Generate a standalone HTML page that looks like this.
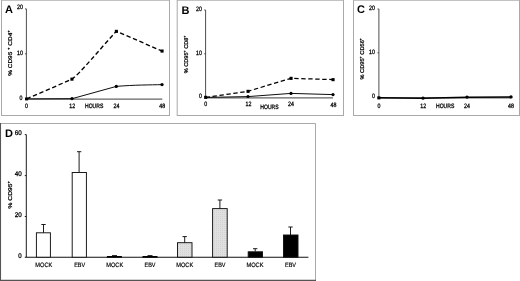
<!DOCTYPE html>
<html><head><meta charset="utf-8">
<style>
html,body{margin:0;padding:0;background:#fff;}
body{width:520px;height:281px;overflow:hidden;}
svg{display:block;position:absolute;left:0;top:0;will-change:transform;}
text{font-family:"Liberation Sans",sans-serif;fill:#000;text-rendering:geometricPrecision;}
.t{font-size:6.3px;stroke:#000;stroke-width:0.28px;}
.yl{font-size:5.5px;stroke:#000;stroke-width:0.25px;}
.e{text-anchor:end;}
.m{text-anchor:middle;}
.p{font-size:11px;font-weight:bold;}
.ax{stroke:#3a3a3a;stroke-width:0.9;fill:none;}
.xa{stroke:#646464;stroke-width:1.15;fill:none;}
</style></head><body>
<svg width="520" height="281" viewBox="0 0 520 281">
<defs>
<pattern id="dots" width="2" height="2" patternUnits="userSpaceOnUse">
<rect width="2" height="2" fill="#e0e0e0"/><rect width="1" height="1" fill="#d2d2d2"/>
</pattern>
</defs>
<rect width="520" height="281" fill="#fff"/>
<!-- panel frames -->
<g fill="none" stroke="#a9a9a9" stroke-width="1">
<rect x="1.5" y="0.2" width="168" height="115.3"/>
<rect x="177.2" y="0.2" width="166.3" height="115.3"/>
<rect x="353.5" y="0.2" width="166" height="115.3"/>
<path d="M0.5 123.5H315.5V280.5"/>
</g>
<path d="M0.5 123V280.4H316" fill="none" stroke="#555" stroke-width="1.1"/>

<!-- Panel A -->
<text class="p" x="5" y="13">A</text>
<path class="ax" d="M26.4 8.9V99.3M25 8.9h1.4M25 53.8h1.4"/>
<path class="xa" d="M26.4 99.1H162.3"/>
<text class="t e" x="23" y="9.2" textLength="5.9" lengthAdjust="spacingAndGlyphs">20</text>
<text class="t e" x="23" y="54.9" textLength="5.9" lengthAdjust="spacingAndGlyphs">10</text>
<text class="t e" x="22.4" y="99.6" textLength="2.95" lengthAdjust="spacingAndGlyphs">0</text>
<text class="t m" x="26.5" y="108.3" textLength="2.95" lengthAdjust="spacingAndGlyphs">0</text>
<text class="t m" x="72.2" y="108.3" textLength="5.9" lengthAdjust="spacingAndGlyphs">12</text>
<text class="t" x="85" y="108.3" textLength="18.3" lengthAdjust="spacingAndGlyphs">HOURS</text>
<text class="t m" x="116.4" y="108.3" textLength="5.9" lengthAdjust="spacingAndGlyphs">24</text>
<text class="t m" x="162.3" y="108.3" textLength="5.9" lengthAdjust="spacingAndGlyphs">48</text>
<text class="yl" transform="translate(11.5,75.8) rotate(-90)" textLength="45.5" lengthAdjust="spacingAndGlyphs">% CD95 <tspan dy="-2" font-size="3.6">+</tspan><tspan dy="2"> CD4</tspan><tspan dy="-2" font-size="3.6">+</tspan></text>
<path d="M26.5 98.9L72 79.2C80 73.5 100 49 116.3 31.3L162 51" stroke="#000" stroke-width="1.35" fill="none" stroke-dasharray="4.4 2.6"/>
<path d="M26.5 98.9L72 98.7L116.3 86.4C135 84.8 150 85 162 84.6" stroke="#000" stroke-width="0.95" fill="none"/>
<g fill="#000">
<rect x="70.4" y="77.6" width="3.1" height="3.1"/><rect x="114.8" y="29.8" width="3.1" height="3.1"/><rect x="160.5" y="49.5" width="3.1" height="3.1"/>
<rect x="25" y="97.5" width="3.1" height="2.9"/><circle cx="72" cy="98.6" r="1.65"/><circle cx="116.3" cy="86.4" r="1.65"/><circle cx="162" cy="84.6" r="1.65"/>
</g>

<!-- Panel B -->
<text class="p" x="181.5" y="13.6">B</text>
<path class="ax" d="M205.6 10V97.9M204.2 10h1.4M204.2 53.8h1.4"/>
<path class="xa" d="M205.6 97.9H333"/>
<text class="t e" x="202" y="11.3" textLength="5.9" lengthAdjust="spacingAndGlyphs">20</text>
<text class="t e" x="202" y="54.9" textLength="5.9" lengthAdjust="spacingAndGlyphs">10</text>
<text class="t e" x="202" y="98.3" textLength="2.95" lengthAdjust="spacingAndGlyphs">0</text>
<text class="t m" x="205.6" y="106.2" textLength="2.95" lengthAdjust="spacingAndGlyphs">0</text>
<text class="t m" x="248.5" y="106.4" textLength="5.9" lengthAdjust="spacingAndGlyphs">12</text>
<text class="t" x="260.3" y="108.8" textLength="18.3" lengthAdjust="spacingAndGlyphs">HOURS</text>
<text class="t m" x="291" y="106.4" textLength="5.9" lengthAdjust="spacingAndGlyphs">24</text>
<text class="t m" x="333.5" y="106.8" textLength="5.9" lengthAdjust="spacingAndGlyphs">48</text>
<text class="yl" transform="translate(188.4,73.3) rotate(-90)" textLength="37.8" lengthAdjust="spacingAndGlyphs">% CD95<tspan dy="-2" font-size="3.6">+</tspan><tspan dy="2"> CD8</tspan><tspan dy="-2" font-size="3.6">+</tspan></text>
<path d="M205.6 97.4L248 91.3L291 78.3L333 79.6" stroke="#000" stroke-width="1.25" fill="none" stroke-dasharray="4.4 2.6"/>
<path d="M205.6 97.4L248 96.6L291 93.4L333 94.6" stroke="#000" stroke-width="0.95" fill="none"/>
<g fill="#000">
<rect x="246.5" y="89.8" width="3.1" height="3.1"/><rect x="289.5" y="76.8" width="3.1" height="3.1"/><rect x="331.5" y="78.1" width="3.1" height="3.1"/>
<rect x="204.1" y="95.8" width="3.1" height="3.1"/>
<circle cx="248" cy="96.5" r="1.6"/><circle cx="291" cy="93.4" r="1.6"/><circle cx="333" cy="94.6" r="1.6"/>
</g>

<!-- Panel C -->
<text class="p" x="357" y="13">C</text>
<path class="ax" d="M378.9 9V97.9M377.5 9h1.4M377.5 52.8h1.4"/>
<path class="xa" d="M378.9 97.9H511"/>
<text class="t e" x="375" y="9.8" textLength="5.9" lengthAdjust="spacingAndGlyphs">20</text>
<text class="t e" x="375" y="53.8" textLength="5.9" lengthAdjust="spacingAndGlyphs">10</text>
<text class="t e" x="375" y="98.2" textLength="2.95" lengthAdjust="spacingAndGlyphs">0</text>
<text class="t m" x="379" y="108.3" textLength="2.95" lengthAdjust="spacingAndGlyphs">0</text>
<text class="t m" x="423.2" y="108.3" textLength="5.9" lengthAdjust="spacingAndGlyphs">12</text>
<text class="t" x="436" y="108.3" textLength="18.3" lengthAdjust="spacingAndGlyphs">HOURS</text>
<text class="t m" x="467" y="108.3" textLength="5.9" lengthAdjust="spacingAndGlyphs">24</text>
<text class="t m" x="511" y="108.3" textLength="5.9" lengthAdjust="spacingAndGlyphs">48</text>
<text class="yl" transform="translate(364.4,79.5) rotate(-90)" textLength="41.5" lengthAdjust="spacingAndGlyphs">% CD95<tspan dy="-2" font-size="3.6">+</tspan><tspan dy="2"> CD56</tspan><tspan dy="-2" font-size="3.6">+</tspan></text>
<path d="M378.9 97.8L423 98.2L467 97.2L511 97" stroke="#000" stroke-width="1.5" fill="none"/>
<g fill="#000">
<rect x="377.3" y="96.3" width="3.1" height="3.1"/>
<circle cx="423" cy="98.2" r="1.6"/><circle cx="467" cy="97.1" r="1.7"/><circle cx="511" cy="96.9" r="1.7"/>
</g>

<!-- Panel D -->
<text class="p" x="5" y="137.3">D</text>
<path class="ax" d="M26.3 134.6V257.2M24.8 134.6h1.5M24.8 175.6h1.5M24.8 216.5h1.5" style="stroke:#1a1a1a;stroke-width:1"/>
<path class="ax" d="M24.8 257.2H308.4" style="stroke-width:1.1;stroke:#111"/>
<text class="t e" x="21.8" y="135" textLength="7" lengthAdjust="spacingAndGlyphs" style="font-size:6.7px">60</text>
<text class="t e" x="21.8" y="176.3" textLength="7" lengthAdjust="spacingAndGlyphs" style="font-size:6.7px">40</text>
<text class="t e" x="21.8" y="217" textLength="7" lengthAdjust="spacingAndGlyphs" style="font-size:6.7px">20</text>
<text class="t e" x="21.6" y="258.3" textLength="3.4" lengthAdjust="spacingAndGlyphs" style="font-size:6.7px">0</text>
<text class="yl" transform="translate(12.2,208.5) rotate(-90)" textLength="27.5" lengthAdjust="spacingAndGlyphs">% CD95<tspan dy="-2" font-size="3.6">+</tspan></text>
<g class="t" text-anchor="middle" style="font-size:6.3px;stroke-width:0.18px">
<text x="43.8" y="267" textLength="17" lengthAdjust="spacingAndGlyphs">MOCK</text>
<text x="79.7" y="267" textLength="11" lengthAdjust="spacingAndGlyphs">EBV</text>
<text x="114.7" y="267" textLength="17" lengthAdjust="spacingAndGlyphs">MOCK</text>
<text x="150" y="267" textLength="11" lengthAdjust="spacingAndGlyphs">EBV</text>
<text x="184.7" y="267" textLength="17" lengthAdjust="spacingAndGlyphs">MOCK</text>
<text x="220" y="267" textLength="11" lengthAdjust="spacingAndGlyphs">EBV</text>
<text x="255" y="267" textLength="17" lengthAdjust="spacingAndGlyphs">MOCK</text>
<text x="290.5" y="267" textLength="11" lengthAdjust="spacingAndGlyphs">EBV</text>
</g>
<g stroke="#111" stroke-width="0.95">
<!-- error bars -->
<path d="M43.5 233V224.5M41.3 224.5h4.4" fill="none"/>
<path d="M79.1 172.5V151.7M77 151.7h4.3" fill="none"/>
<path d="M184.7 243V236.6M182.5 236.6h4.4" fill="none"/>
<path d="M219.9 209V200M217.7 200h4.4" fill="none"/>
<path d="M255.2 251.5V248.7M253 248.7h4.4" fill="none"/>
<path d="M290.5 235V227M288.3 227h4.4" fill="none"/>
<rect x="36.4" y="232.8" width="14" height="24.4" fill="#fff"/>
<rect x="72.2" y="172.5" width="14.2" height="84.7" fill="#fff"/>
<rect x="177.5" y="242.7" width="14.5" height="14.5" fill="url(#dots)"/>
<rect x="212.6" y="208.6" width="14.6" height="48.6" fill="url(#dots)"/>
<rect x="248.2" y="251.8" width="14.3" height="5.4" fill="#000"/>
<rect x="283.5" y="235" width="14.5" height="22.2" fill="#000"/>
</g>
<g fill="#000">
<rect x="106.9" y="256" width="15" height="1.7"/><rect x="112" y="255.2" width="5" height="1"/>
<rect x="142.5" y="256" width="15" height="1.7"/><rect x="147.5" y="255.2" width="5" height="1"/>
</g>
</svg>
</body></html>
